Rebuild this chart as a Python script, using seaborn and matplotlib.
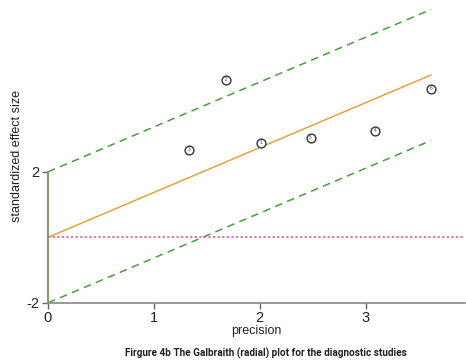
import numpy as np
import pandas as pd
import matplotlib
matplotlib.use("Agg")
import matplotlib.pyplot as plt
import seaborn as sns

# Study points: precision (1/SE) and standardized effect (estimate/SE)
study_ids = ["1", "2", "3", "4", "5", "6"]
precision = [2.01, 1.68, 1.33, 3.09, 2.48, 3.62]
std_effect = [2.89, 4.81, 2.67, 3.25, 3.04, 4.53]

# Pooled slope and the +/-2 confidence band
pooled_slope = 1.37
band = 2.0
x_end = 3.62

df = pd.DataFrame({"study": study_ids, "precision": precision, "z": std_effect})

sns.set_theme(style="white")
plt.rcParams["font.family"] = ["Liberation Sans", "DejaVu Sans"]

fig = plt.figure(figsize=(4.66, 3.64), dpi=100)
ax = fig.add_axes([0.103, 0.168, 0.895, 0.826])

xs = np.array([0.0, x_end])
line_df = pd.DataFrame({"x": xs, "fit": pooled_slope * xs,
                        "upper": pooled_slope * xs + band,
                        "lower": pooled_slope * xs - band})

sns.lineplot(data=line_df, x="x", y="fit", ax=ax, color="#e8a23c", lw=1.1)
sns.lineplot(data=line_df, x="x", y="upper", ax=ax, color="#4a9e3f", lw=1.1,
             linestyle=(0, (5, 3.5)))
sns.lineplot(data=line_df, x="x", y="lower", ax=ax, color="#4a9e3f", lw=1.1,
             linestyle=(0, (5, 3.5)))
ax.axhline(0, color="#dd5577", lw=1.1, linestyle=(0, (1.5, 1.5)))

sns.scatterplot(data=df, x="precision", y="z", ax=ax, s=40, marker="o",
                facecolor="white", edgecolor="#444444", linewidth=1.1, zorder=5)
for _, r in df.iterrows():
    ax.text(r["precision"], r["z"], r["study"], ha="center", va="center",
            fontsize=3.5, color="#444444", zorder=6)

ax.set_xlim(0, 3.94)
ax.set_ylim(-2, 7.18)
ax.set_xticks([0, 1, 2, 3])
ax.set_yticks([-2, 2])
ax.set_yticklabels(["-2", "2"])

for s in ["top", "right"]:
    ax.spines[s].set_visible(False)
ax.spines["left"].set_bounds(-2, 2)
ax.spines["left"].set_color("#8a9c72")
ax.spines["left"].set_linewidth(1.6)
ax.spines["bottom"].set_color("#888888")
ax.spines["bottom"].set_linewidth(1.2)

ax.tick_params(axis="both", which="major", direction="out", length=4, width=1,
               color="#666666", labelsize=10.5, labelcolor="#222222", pad=2)
ax.tick_params(axis="y", left=True)
ax.tick_params(axis="x", bottom=True)

ax.set_xlabel("precision", fontsize=9, color="#222222", labelpad=0)
ax.set_ylabel("standardized effect size", fontsize=9, color="#222222")
ax.yaxis.set_label_coords(-0.06, 0.49)

fig.text(0.571, 0.030, "Firgure 4b The Galbraith (radial) plot for the diagnostic studies",
         ha="center", va="center", fontsize=7.2, fontweight="bold",
         color="#222222", family=["Roboto", "DejaVu Sans"])

fig.savefig("out.png", dpi=100, facecolor="white")
